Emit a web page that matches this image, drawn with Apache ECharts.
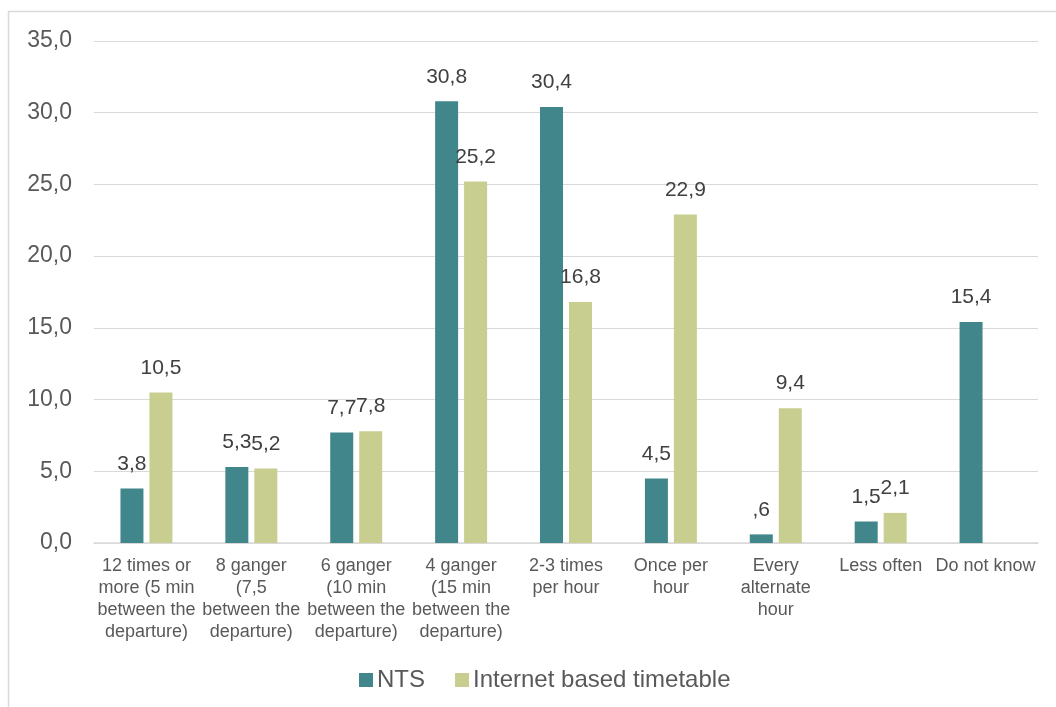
<!DOCTYPE html>
<html>
<head>
<meta charset="utf-8">
<script src="https://cdn.jsdelivr.net/npm/echarts@6/dist/echarts.min.js"></script>
<style>
  html, body { margin: 0; padding: 0; background: #ffffff; }
  #chart { width: 1056px; height: 707px; }
</style>
</head>
<body>
<div id="chart"></div>
<script>
// Departure frequency categories
const categories = [
  '12 times or\nmore (5 min\nbetween the\ndeparture)',
  '8 ganger\n(7,5\nbetween the\ndeparture)',
  '6 ganger\n(10 min\nbetween the\ndeparture)',
  '4 ganger\n(15 min\nbetween the\ndeparture)',
  '2-3 times\nper hour',
  'Once per\nhour',
  'Every\nalternate\nhour',
  'Less often',
  'Do not know'
];

// Share of respondents (%)
const ntsValues = [3.8, 5.3, 7.7, 30.8, 30.4, 4.5, 0.6, 1.5, 15.4];
const internetValues = [10.5, 5.2, 7.8, 25.2, 16.8, 22.9, 9.4, 2.1, null];

const seriesNames = ['NTS', 'Internet based timetable'];
const seriesColors = ['#40868A', '#C8CE8F'];

// Y-axis ticks
const yTicks = [0, 5, 10, 15, 20, 25, 30, 35];

const FONT = '"Liberation Sans", Arial, sans-serif';

// Excel-style "#,0" number format with decimal comma (0.6 -> ",6")
function fmt(v) {
  let s = Number(v).toFixed(1).replace('.', ',');
  if (s.startsWith('0,')) s = s.slice(1);
  return s;
}

const chart = echarts.init(document.getElementById('chart'), null, { renderer: 'canvas' });

const labelStyle = {
  show: true,
  position: 'top',
  distance: 14,
  fontFamily: FONT,
  fontSize: 21,
  color: '#404040',
  formatter: p => (p.value == null ? '' : fmt(p.value))
};

chart.setOption({
  animation: false,
  backgroundColor: '#ffffff',
  textStyle: { fontFamily: FONT },
  graphic: [{
    type: 'rect',
    shape: { x: 8.5, y: 11.5, width: 1200, height: 900 },
    style: { fill: 'none', stroke: '#d9d9d9', lineWidth: 1.5 },
    silent: true,
    z: -10
  }],
  grid: { left: 94, right: 18, top: 41, bottom: 164, containLabel: false },
  legend: {
    data: seriesNames,
    left: 354,
    top: 663,
    itemWidth: 14,
    itemHeight: 14,
    itemGap: 30,
    icon: 'rect',
    textStyle: { fontFamily: FONT, fontSize: 24, color: '#595959', padding: [0, 0, 0, -1] }
  },
  xAxis: {
    type: 'category',
    data: categories,
    axisTick: { show: false },
    axisLine: { show: true, lineStyle: { color: '#d9d9d9', width: 1.5 } },
    axisLabel: {
      interval: 0,
      margin: 12,
      fontFamily: FONT,
      fontSize: 18,
      lineHeight: 22,
      color: '#595959'
    }
  },
  yAxis: {
    type: 'value',
    min: yTicks[0],
    max: yTicks[yTicks.length - 1],
    interval: yTicks[1] - yTicks[0],
    axisLine: { show: false },
    axisTick: { show: false },
    splitLine: { lineStyle: { color: '#d9d9d9', width: 1.2 } },
    axisLabel: {
      margin: 22,
      fontFamily: FONT,
      fontSize: 23,
      color: '#595959',
      formatter: v => v.toFixed(1).replace('.', ',')
    }
  },
  series: [
    {
      name: seriesNames[0],
      type: 'bar',
      data: ntsValues,
      barWidth: 23,
      barGap: '26%',
      itemStyle: { color: seriesColors[0] },
      label: labelStyle
    },
    {
      name: seriesNames[1],
      type: 'bar',
      data: internetValues,
      barWidth: 23,
      barGap: '26%',
      itemStyle: { color: seriesColors[1] },
      label: labelStyle
    }
  ]
});
</script>
</body>
</html>
